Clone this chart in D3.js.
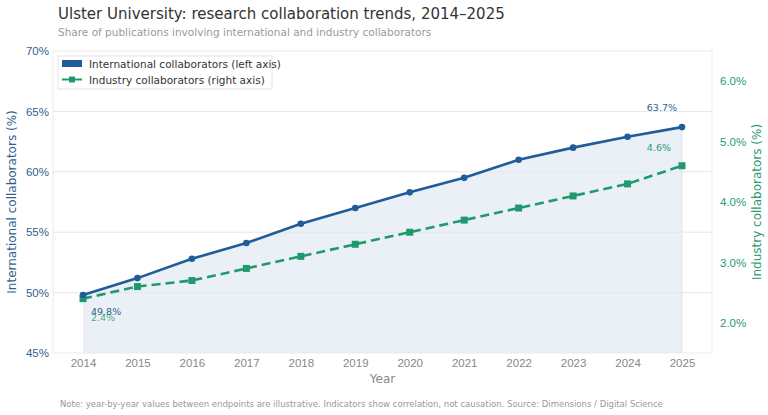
<!DOCTYPE html>
<html>
<head>
<meta charset="utf-8">
<script src="https://cdn.jsdelivr.net/npm/d3@7"></script>
<style>
  body { margin: 0; background: #fff; }
  svg { font-family: "DejaVu Sans", sans-serif; }
</style>
</head>
<body>
<div id="chart"></div>
<script>
const years = [2014, 2015, 2016, 2017, 2018, 2019, 2020, 2021, 2022, 2023, 2024, 2025];
const international = [49.8, 51.2, 52.8, 54.1, 55.7, 57.0, 58.3, 59.5, 61.0, 62.0, 62.9, 63.7];
const industry = [2.4, 2.6, 2.7, 2.9, 3.1, 3.3, 3.5, 3.7, 3.9, 4.1, 4.3, 4.6];
const leftTicks = [45, 50, 55, 60, 65, 70];
const rightTicks = [2, 3, 4, 5, 6];

const width = 768, height = 415;
const BLUE = "#1f5c99";
const GREEN = "#1f9a6e";

const margin = { top: 51, right: 56, bottom: 62, left: 53 };
const x0 = margin.left, x1 = width - margin.right;
const y0 = height - margin.bottom, y1 = margin.top;

const x = d3.scalePoint().domain(years).range([x0 + 30, x1 - 30]);
const yL = d3.scaleLinear().domain([45, 70]).range([y0, y1]);
const yR = d3.scaleLinear().domain([1.5, 6.5]).range([y0, y1]);

const svg = d3.select("#chart").append("svg")
  .attr("width", width)
  .attr("height", height);

// plot frame
svg.append("rect")
  .attr("x", x0).attr("y", y1)
  .attr("width", x1 - x0).attr("height", y0 - y1)
  .attr("fill", "#fff")
  .attr("stroke", "#ececec");

// grid
svg.append("g")
  .selectAll("line")
  .data(leftTicks.slice(1, -1))
  .enter()
  .append("line")
  .attr("x1", x0).attr("x2", x1)
  .attr("y1", d => yL(d)).attr("y2", d => yL(d))
  .attr("stroke", "#e6e6e6");

// area under international
const intData = years.map((y, i) => ({ year: y, v: international[i] }));
const indData = years.map((y, i) => ({ year: y, v: industry[i] }));

svg.append("path")
  .datum(intData)
  .attr("fill", "#dfe8f0")
  .attr("fill-opacity", 0.65)
  .attr("d", d3.area().x(d => x(d.year)).y0(y0).y1(d => yL(d.v)));

svg.append("line")
  .attr("x1", x(2025)).attr("x2", x(2025))
  .attr("y1", yL(63.7)).attr("y2", y0)
  .attr("stroke", "#dfe6ee");

// industry line (dashed)
svg.append("path")
  .datum(indData)
  .attr("fill", "none")
  .attr("stroke", GREEN)
  .attr("stroke-width", 2.6)
  .attr("stroke-dasharray", "9,5")
  .attr("d", d3.line().x(d => x(d.year)).y(d => yR(d.v)));

svg.append("g")
  .selectAll("rect")
  .data(indData)
  .enter()
  .append("rect")
  .attr("x", d => x(d.year) - 3.5)
  .attr("y", d => yR(d.v) - 3.5)
  .attr("width", 7).attr("height", 7)
  .attr("fill", GREEN);

// international line
svg.append("path")
  .datum(intData)
  .attr("fill", "none")
  .attr("stroke", BLUE)
  .attr("stroke-width", 2.6)
  .attr("d", d3.line().x(d => x(d.year)).y(d => yL(d.v)));

svg.append("g")
  .selectAll("circle")
  .data(intData)
  .enter()
  .append("circle")
  .attr("cx", d => x(d.year))
  .attr("cy", d => yL(d.v))
  .attr("r", 3.3)
  .attr("fill", BLUE);

// axes
const axL = svg.append("g")
  .attr("transform", `translate(${x0},0)`)
  .call(d3.axisLeft(yL).tickValues(leftTicks).tickFormat(d => d + "%").tickSize(0).tickPadding(4));
axL.select(".domain").remove();
axL.selectAll("text").attr("fill", "#2f5f8f").style("font-size", "11.5px");

const axR = svg.append("g")
  .attr("transform", `translate(${x1},0)`)
  .call(d3.axisRight(yR).tickValues(rightTicks).tickFormat(d => d.toFixed(1) + "%").tickSize(0).tickPadding(8));
axR.select(".domain").remove();
axR.selectAll("text").attr("fill", "#2a9a72").style("font-size", "11.5px");

const axX = svg.append("g")
  .attr("transform", `translate(0,${y0})`)
  .call(d3.axisBottom(x).tickSize(0).tickPadding(6));
axX.select(".domain").remove();
axX.selectAll("text").attr("fill", "#888").style("font-size", "11.5px");

// axis titles
svg.append("text")
  .attr("transform", `translate(16,${(y0 + y1) / 2}) rotate(-90)`)
  .attr("text-anchor", "middle")
  .attr("fill", "#2f5f8f")
  .style("font-size", "12px")
  .text("International collaborators (%)");

svg.append("text")
  .attr("transform", `translate(761,${(y0 + y1) / 2}) rotate(-90)`)
  .attr("text-anchor", "middle")
  .attr("fill", "#2a9a72")
  .style("font-size", "12px")
  .text("Industry collaborators (%)");

svg.append("text")
  .attr("x", (x0 + x1) / 2).attr("y", 383)
  .attr("text-anchor", "middle")
  .attr("fill", "#888")
  .style("font-size", "12px")
  .text("Year");

// title
svg.append("text")
  .attr("x", 58).attr("y", 19)
  .attr("fill", "#333")
  .style("font-size", "15px")
  .text("Ulster University: research collaboration trends, 2014–2025");

svg.append("text")
  .attr("x", 58).attr("y", 36)
  .attr("fill", "#999")
  .style("font-size", "10.5px")
  .text("Share of publications involving international and industry collaborators");

// endpoint labels
const last = years.length - 1;
svg.append("text")
  .attr("x", x(years[last]) - 5).attr("y", yL(international[last]) - 16)
  .attr("text-anchor", "end")
  .attr("fill", "#2f5f8f")
  .style("font-size", "9.5px")
  .text(international[last].toFixed(1) + "%");

svg.append("text")
  .attr("x", x(years[last]) - 11).attr("y", yR(industry[last]) - 15)
  .attr("text-anchor", "end")
  .attr("fill", "#2a9a72")
  .style("font-size", "9.5px")
  .text(industry[last].toFixed(1) + "%");

svg.append("text")
  .attr("x", x(years[0]) + 8).attr("y", yL(international[0]) + 20)
  .attr("fill", "#2f5f8f")
  .style("font-size", "9.5px")
  .text(international[0].toFixed(1) + "%");

svg.append("text")
  .attr("x", x(years[0]) + 8).attr("y", yR(industry[0]) + 22)
  .attr("fill", "#2a9a72")
  .attr("fill-opacity", 0.85)
  .style("font-size", "9.5px")
  .text(industry[0].toFixed(1) + "%");

// legend
const lg = svg.append("g").attr("transform", "translate(58,56)");
lg.append("rect")
  .attr("width", 214).attr("height", 33)
  .attr("fill", "#fff")
  .attr("stroke", "#e4e4e4");
lg.append("rect")
  .attr("x", 4).attr("y", 4).attr("width", 20).attr("height", 7)
  .attr("fill", BLUE);
lg.append("text")
  .attr("x", 31).attr("y", 12)
  .attr("fill", "#333")
  .style("font-size", "10.5px")
  .text("International collaborators (left axis)");
lg.append("line")
  .attr("x1", 4).attr("x2", 24).attr("y1", 23.5).attr("y2", 23.5)
  .attr("stroke", GREEN).attr("stroke-width", 2);
lg.append("rect")
  .attr("x", 11).attr("y", 20.5).attr("width", 6).attr("height", 6)
  .attr("fill", GREEN);
lg.append("text")
  .attr("x", 31).attr("y", 27.5)
  .attr("fill", "#333")
  .style("font-size", "10.5px")
  .text("Industry collaborators (right axis)");

// note
svg.append("text")
  .attr("x", 60).attr("y", 407)
  .attr("fill", "#999")
  .style("font-size", "8.5px")
  .text("Note: year-by-year values between endpoints are illustrative. Indicators show correlation, not causation.   Source: Dimensions / Digital Science");
</script>
</body>
</html>
